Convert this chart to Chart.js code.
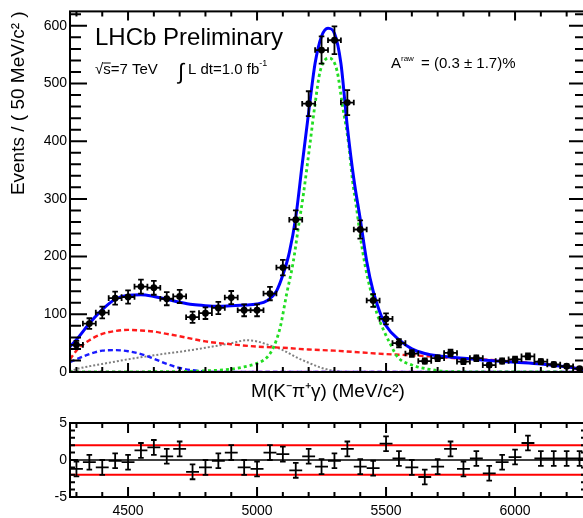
<!DOCTYPE html>
<html>
<head>
<meta charset="utf-8">
<title>K pi gamma invariant mass</title>
<script src="https://cdn.jsdelivr.net/npm/chart.js@4.4.1/dist/chart.umd.min.js"></script>
<style>
  html, body { margin: 0; padding: 0; background: #fff; overflow: hidden; width: 583px; height: 518px; }
  #fitChart { position: absolute; left: 0; top: 0; }
  #pullChart { position: absolute; left: 0; top: 403px; }
</style>
</head>
<body>
<canvas id="fitChart" width="600" height="403"></canvas>
<canvas id="pullChart" width="600" height="115"></canvas>
<script>
const FONT = "'Liberation Sans', Arial, Helvetica, sans-serif";

// 50 MeV/c2 bins
const binCentres = [4300, 4350, 4400, 4450, 4500, 4550, 4600, 4650, 4700, 4750,
  4800, 4850, 4900, 4950, 5000, 5050, 5100, 5150, 5200, 5250,
  5300, 5350, 5400, 5450, 5500, 5550, 5600, 5650, 5700, 5750,
  5800, 5850, 5900, 5950, 6000, 6050, 6100, 6150, 6200, 6250];
const events = [47, 84, 103, 128, 130, 148, 146, 127, 131, 95,
  102, 111, 129, 107, 107, 136, 181, 264, 465, 558,
  575, 467, 247, 124, 92, 50, 32, 19, 24, 33,
  18, 24, 12, 19, 22, 27, 18, 13, 10, 6];
const pulls = [-1.2, -0.3, -1.0, -0.1, -0.3, 1.3, 1.7, 0.5, 1.5, -1.6,
  -1.0, -0.1, 1.0, -1.0, -1.2, 1.0, 0.8, -1.4, 0.5, -0.9,
  -0.1, 1.5, -0.9, -1.1, 2.2, 0.2, -1.0, -2.3, -0.9, 1.5,
  -1.2, 0.2, -1.8, -0.3, 0.4, 2.3, 0.2, 0.2, 0.2, 0.2];

// total fit (solid blue)
const fitMass = [4275, 4300, 4350, 4400, 4450, 4500, 4550, 4600, 4650, 4700, 4750, 4800,
  4850, 4900, 4950, 5000, 5040, 5075, 5100, 5125, 5150, 5175, 5200, 5225, 5250, 5275,
  5300, 5325, 5350, 5375, 5400, 5425, 5450, 5475, 5500, 5550, 5600, 5650, 5700, 5800,
  5900, 6000, 6100, 6200, 6275];
const fitTotal = [44, 56, 84, 108, 126, 133, 134, 131, 126, 121, 117, 115,
  114, 115, 116, 118, 124, 140, 168, 207, 268, 360, 450, 535, 582, 596,
  587, 535, 425, 335, 265, 192, 140, 105, 80, 56, 40, 32, 28, 24,
  20, 17, 14, 9, 3];

// signal (green dotted)
const sigMass = [4275, 4600, 4800, 4900, 4950, 5000, 5040, 5065, 5090, 5115, 5140, 5160,
  5180, 5205, 5225, 5245, 5280, 5310, 5330, 5355, 5370, 5385, 5400, 5420, 5440, 5465,
  5490, 5515, 5545, 5600, 5670, 5750, 6275];
const sigCurve = [0, 0.5, 2, 5, 9, 15, 26, 44, 78, 136, 190, 250,
  309, 395, 465, 522, 544, 522, 465, 395, 332, 286, 236, 182, 142, 101,
  73, 50, 26, 12, 4.5, 0.5, 0];

// combinatorial background (red dashed)
const combMass = [4275, 4300, 4350, 4400, 4450, 4500, 4550, 4600, 4650, 4700, 4800, 4900,
  5000, 5100, 5200, 5300, 5400, 5500, 5600, 5700, 5800, 5900, 6000, 6100, 6200, 6275];
const combCurve = [22, 37, 55, 66, 71, 73, 72, 70, 66, 62, 53, 48,
  44, 42, 39, 37, 34, 31, 29, 26, 23, 21, 18, 14, 9, 4];

// partially reconstructed background (blue dashed)
const lowMass = [4275, 4300, 4350, 4400, 4450, 4500, 4550, 4600, 4650, 4700, 4750, 4800, 4850, 6275];
const lowCurve = [17, 22, 31, 37, 38, 36, 31, 23, 14, 7, 3, 1, 0, 0];

// peaking background (grey dotted)
const peakMass = [4275, 4300, 4350, 4400, 4450, 4500, 4600, 4700, 4800, 4900, 4960, 5000,
  5050, 5100, 5150, 5200, 5250, 5300, 5350, 6275];
const peakCurve = [1, 5, 10, 14, 18, 22, 29, 35, 42, 50, 55, 53,
  46, 38, 26, 16, 7, 2, 0, 0];

// flat component (magenta dashed)
const flatMass = [4275, 6275];
const flatCurve = [0.6, 0.6];

const countTicks = [0, 100, 200, 300, 400, 500, 600];
const massTicks = [4500, 5000, 5500, 6000];
const pullTicks = [-5, 0, 5];
const pullBands = [-2, 2];

function toPoints(xs, ys) {
  return xs.map(function (x, i) { return { x: x, y: ys[i] }; });
}

function curve(label, xs, ys, color, width, dash) {
  return {
    label: label,
    data: toPoints(xs, ys),
    borderColor: color,
    borderWidth: width,
    borderDash: dash,
    pointRadius: 0,
    fill: false,
    cubicInterpolationMode: 'monotone'
  };
}

function plainLabel(v) { return String(v); }

// crosses for points: x half-width and y error
const errorBars = {
  id: 'errorBars',
  afterDatasetsDraw(chart) {
    const ctx = chart.ctx;
    const xs = chart.scales.x, ys = chart.scales.y;
    chart.data.datasets.forEach(function (ds) {
      if (!ds.errY) return;
      ctx.save();
      ctx.strokeStyle = '#000';
      ctx.lineWidth = 1.8;
      ctx.beginPath();
      ds.data.forEach(function (p, j) {
        const e = ds.errY[j];
        const cx = xs.getPixelForValue(p.x), cy = ys.getPixelForValue(p.y);
        const x0 = xs.getPixelForValue(p.x - ds.halfWidth), x1 = xs.getPixelForValue(p.x + ds.halfWidth);
        const y0 = ys.getPixelForValue(p.y - e), y1 = ys.getPixelForValue(p.y + e);
        const c = ds.cap;
        ctx.moveTo(x0, cy); ctx.lineTo(x1, cy);
        ctx.moveTo(cx, y0); ctx.lineTo(cx, y1);
        ctx.moveTo(cx - c, y0); ctx.lineTo(cx + c, y0);
        ctx.moveTo(cx - c, y1); ctx.lineTo(cx + c, y1);
        if (ds.xCaps) {
          ctx.moveTo(x0, cy - c); ctx.lineTo(x0, cy + c);
          ctx.moveTo(x1, cy - c); ctx.lineTo(x1, cy + c);
        }
      });
      ctx.stroke();
      ctx.restore();
    });
  }
};

// ROOT style frame with ticks pointing inwards on all four sides
const frameTicks = {
  id: 'frameTicks',
  afterDatasetsDraw(chart, args, o) {
    const ctx = chart.ctx, a = chart.chartArea;
    const xs = chart.scales.x, ys = chart.scales.y;
    ctx.save();
    ctx.strokeStyle = '#000';
    ctx.lineWidth = 2;
    ctx.beginPath();
    for (let k = Math.ceil(xs.min / o.xStep); k * o.xStep <= xs.max; k++) {
      const v = k * o.xStep;
      const px = xs.getPixelForValue(v);
      const len = v % o.xMajor === 0 ? o.xLong : o.xShort;
      ctx.moveTo(px, a.bottom); ctx.lineTo(px, a.bottom - len);
      ctx.moveTo(px, a.top); ctx.lineTo(px, a.top + len);
    }
    for (let k = Math.ceil(ys.min / o.yStep); k * o.yStep <= ys.max; k++) {
      const v = k * o.yStep;
      const py = ys.getPixelForValue(v);
      const len = v % o.yMajor === 0 ? o.yLong : o.yShort;
      ctx.moveTo(a.left, py); ctx.lineTo(a.left + len, py);
      ctx.moveTo(a.right, py); ctx.lineTo(a.right - len, py);
    }
    ctx.stroke();
    ctx.strokeRect(a.left, a.top, a.right - a.left, a.bottom - a.top);
    ctx.restore();
  }
};

const notes = {
  id: 'notes',
  afterDraw(chart) {
    const ctx = chart.ctx;
    ctx.save();
    ctx.fillStyle = '#000';
    ctx.strokeStyle = '#000';
    ctx.textBaseline = 'alphabetic';

    ctx.font = '24px ' + FONT;
    ctx.fillText('LHCb Preliminary', 95, 45);

    ctx.font = '15px ' + FONT;
    let x = 95;
    ctx.fillText('\u221A', x, 74);
    x += ctx.measureText('\u221A').width;
    const sW = ctx.measureText('s').width;
    ctx.fillText('s', x, 74);
    ctx.lineWidth = 1;
    ctx.beginPath();
    ctx.moveTo(x, 63); ctx.lineTo(x + sW, 63);
    ctx.stroke();
    ctx.fillText('=7 TeV', x + sW, 74);

    ctx.font = '22px ' + FONT;
    ctx.fillText('\u222B', 178, 79);
    ctx.font = '15px ' + FONT;
    ctx.fillText('L dt=1.0 fb', 188, 74);
    const fbW = ctx.measureText('L dt=1.0 fb').width;
    ctx.font = '9px ' + FONT;
    ctx.fillText('-1', 188 + fbW, 66);

    ctx.font = '15px ' + FONT;
    ctx.fillText('A', 391, 68);
    ctx.font = '8px ' + FONT;
    ctx.fillText('raw', 401, 61);
    ctx.font = '15px ' + FONT;
    ctx.fillText('= (0.3 \u00B1 1.7)%', 421, 68);
    ctx.restore();
  }
};

Chart.defaults.font.family = FONT;
Chart.defaults.color = '#000';

const eventErr = events.map(function (n) { return Math.sqrt(n); });

new Chart(document.getElementById('fitChart'), {
  type: 'line',
  data: {
    datasets: [
      {
        label: 'Data',
        data: toPoints(binCentres, events),
        showLine: false,
        pointRadius: 3.4,
        pointBackgroundColor: '#000',
        pointBorderColor: '#000',
        pointBorderWidth: 0,
        errY: eventErr,
        halfWidth: 25,
        cap: 2.8,
        xCaps: true
      },
      curve('Total', fitMass, fitTotal, '#0000ff', 3, []),
      curve('Signal', sigMass, sigCurve, '#22dd22', 2.8, [3, 3]),
      curve('Combinatorial', combMass, combCurve, '#ff1a1a', 2.4, [5, 3]),
      curve('Partially reconstructed', lowMass, lowCurve, '#1a1aff', 2.4, [5, 3]),
      curve('Peaking', peakMass, peakCurve, '#808080', 2, [2, 2]),
      curve('Flat', flatMass, flatCurve, '#dd22dd', 2, [4, 3])
    ]
  },
  options: {
    responsive: false,
    animation: false,
    layout: { padding: { left: 0, top: 11, right: 14, bottom: 0 } },
    plugins: {
      legend: { display: false },
      tooltip: { enabled: false },
      frameTicks: { xStep: 100, xMajor: 500, xLong: 9, xShort: 5, yStep: 20, yMajor: 100, yLong: 17, yShort: 11 }
    },
    scales: {
      x: {
        type: 'linear',
        min: 4275,
        max: 6275,
        grid: { display: false, drawTicks: false },
        border: { display: false },
        ticks: { display: false },
        title: { display: true, text: 'M(K\u207B\u03C0\u207A\u03B3) (MeV/c\u00B2)', font: { size: 19 }, padding: 0 },
        afterFit: function (s) { s.height = 31; }
      },
      y: {
        min: 0,
        max: 625,
        grid: { display: false, drawTicks: false },
        border: { display: false },
        ticks: { padding: 3, font: { size: 14 }, callback: plainLabel },
        afterBuildTicks: function (s) { s.ticks = countTicks.map(function (v) { return { value: v }; }); },
        title: { display: true, text: 'Events / ( 50 MeV/c\u00B2 )', align: 'end', font: { size: 19 }, padding: { top: 7, bottom: 0 } },
        afterFit: function (s) { s.width = 70; }
      }
    }
  },
  plugins: [errorBars, frameTicks, notes]
});

const bandSets = pullBands.map(function (b) {
  return {
    label: 'band ' + b,
    data: [{ x: 4275, y: b }, { x: 6275, y: b }],
    borderColor: '#ff0000',
    borderWidth: 2,
    pointRadius: 0
  };
});

new Chart(document.getElementById('pullChart'), {
  type: 'line',
  data: {
    datasets: [
      {
        label: 'Pull',
        data: toPoints(binCentres, pulls),
        showLine: false,
        pointRadius: 0,
        errY: pulls.map(function () { return 1; }),
        halfWidth: 25,
        cap: 2.8,
        xCaps: false
      },
      {
        label: 'zero',
        data: [{ x: 4275, y: 0 }, { x: 6275, y: 0 }],
        borderColor: '#000',
        borderWidth: 1.5,
        pointRadius: 0
      }
    ].concat(bandSets)
  },
  options: {
    responsive: false,
    animation: false,
    layout: { padding: { left: 0, top: 20, right: 14, bottom: 0 } },
    plugins: {
      legend: { display: false },
      tooltip: { enabled: false },
      frameTicks: { xStep: 100, xMajor: 500, xLong: 10, xShort: 5, yStep: 1, yMajor: 5, yLong: 8, yShort: 5 }
    },
    scales: {
      x: {
        type: 'linear',
        min: 4275,
        max: 6275,
        grid: { display: false, drawTicks: false },
        border: { display: false },
        ticks: { padding: 6, font: { size: 14 }, maxRotation: 0, autoSkip: false, callback: plainLabel },
        afterBuildTicks: function (s) { s.ticks = massTicks.map(function (v) { return { value: v }; }); },
        afterFit: function (s) { s.height = 21; }
      },
      y: {
        min: -5,
        max: 5,
        grid: { display: false, drawTicks: false },
        border: { display: false },
        ticks: { padding: 3, font: { size: 14 }, callback: plainLabel },
        afterBuildTicks: function (s) { s.ticks = pullTicks.map(function (v) { return { value: v }; }); },
        afterFit: function (s) { s.width = 70; }
      }
    }
  },
  plugins: [errorBars, frameTicks]
});
</script>
</body>
</html>
